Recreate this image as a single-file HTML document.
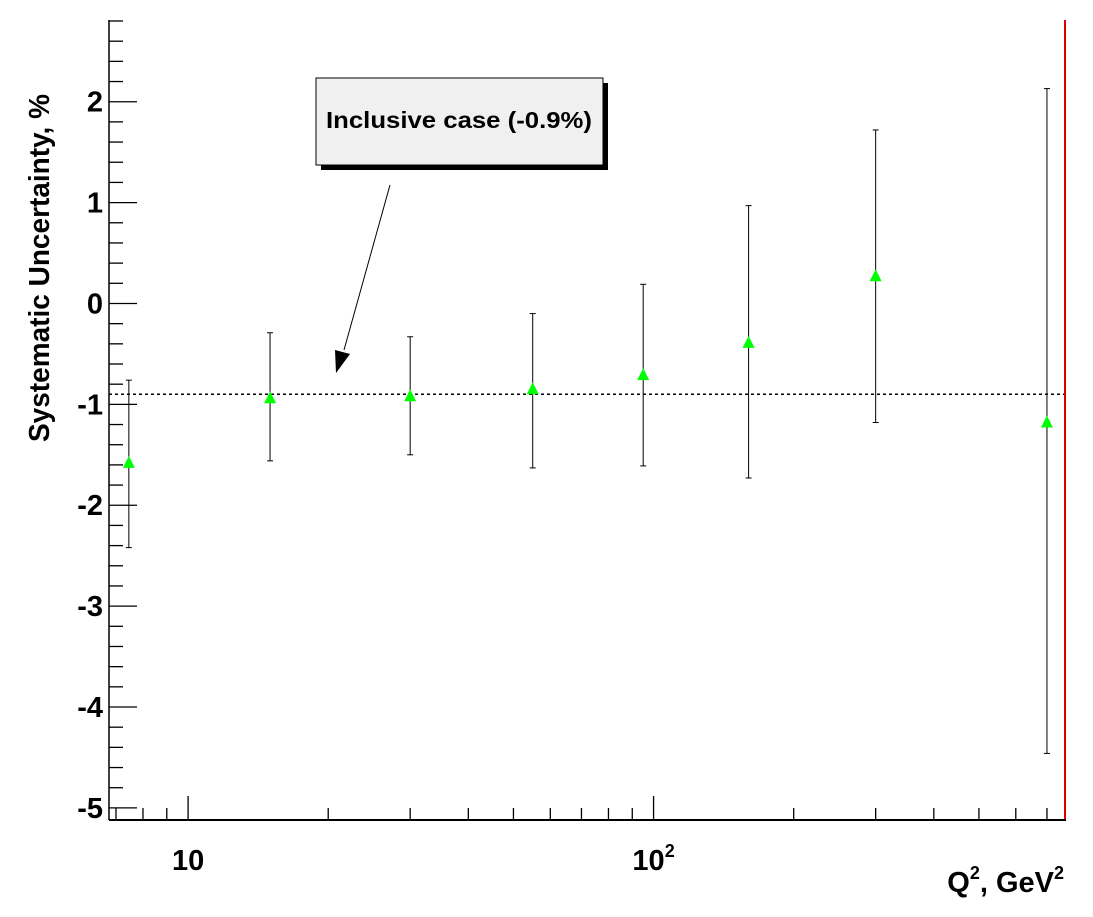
<!DOCTYPE html>
<html><head><meta charset="utf-8"><style>
body{margin:0;background:#fff;}
svg text{font-family:"Liberation Sans",sans-serif;font-weight:bold;}
</style></head><body>
<svg id="chart" width="1093" height="912" xmlns="http://www.w3.org/2000/svg">
<rect width="1093" height="912" fill="#fff"/>
<g id="ticks"></g>
<g id="marks"></g>
<line x1="1065" y1="20" x2="1065" y2="820" stroke="#d00" stroke-width="2"/>
<line x1="109" y1="820" x2="1066" y2="820" stroke="#000" stroke-width="2"/>
<line x1="109" y1="20" x2="109" y2="820" stroke="#000" stroke-width="1.5"/>
<text transform="translate(49,442) rotate(-90)" font-size="29" textLength="348" lengthAdjust="spacingAndGlyphs">Systematic Uncertainty, %</text>
<text x="1064" y="892" text-anchor="end" font-size="29">Q<tspan font-size="18" dy="-13">2</tspan><tspan dy="13">, GeV</tspan><tspan font-size="18" dy="-13">2</tspan></text>
<g>
<rect x="321" y="83" width="287" height="87" fill="#000"/>
<rect x="316" y="78" width="287" height="87" fill="#f0f0f0" stroke="#000" stroke-width="1"/>
<text x="459" y="128" text-anchor="middle" font-size="23" textLength="266" lengthAdjust="spacingAndGlyphs">Inclusive case (-0.9%)</text>
</g>
<line x1="390" y1="185" x2="344" y2="350" stroke="#000" stroke-width="1"/>
<polygon points="336,373 335,350 350,354" fill="#000"/>
</svg>
<script>
const categories=[7.46,15,30,55,95,160,300,700];
const values=[-1.58,-0.94,-0.92,-0.85,-0.71,-0.39,0.27,-1.18];
const errUp=[-0.76,-0.29,-0.33,-0.10,0.19,0.97,1.72,2.13];
const errLo=[-2.42,-1.56,-1.50,-1.63,-1.61,-1.73,-1.18,-4.46];
const refLine=-0.9;
const yTicks=[2,1,0,-1,-2,-3,-4,-5];
const xMajor=[10,100];
const xMajorBase=["10","10"];
const xMajorExp=["","2"];
const NS="http://www.w3.org/2000/svg";
const X0=109,X1=1065,Y0=820,Y1=20;
const xMin=Math.pow(10,1-79/465),xMax=Math.pow(10,1+876/465);
const yMin=-5.12,yMax=2.81;
function xs(v){return X0+(Math.log10(v)-Math.log10(xMin))/(Math.log10(xMax)-Math.log10(xMin))*(X1-X0);}
function ys(v){return Y0-(v-yMin)/(yMax-yMin)*(Y0-Y1);}
function mk(t,a,p){const e=document.createElementNS(NS,t);for(const k in a)e.setAttribute(k,a[k]);p.appendChild(e);return e;}
const tg=document.getElementById('ticks'),mg=document.getElementById('marks');
for(let i=-25;i<=14;i++){const v=i/5;const y=ys(v);if(y<Y1||y>Y0)continue;const maj=(i%5===0);
const l=mk('line',{x1:X0,x2:X0+(maj?28:14),y1:y,y2:y,stroke:'#000','stroke-width':1.3},tg);

}
yTicks.forEach(v=>{const t=mk('text',{x:X0-6,y:ys(v)+10,'text-anchor':'end','font-size':29},tg);t.textContent=v;

});
for(let d=0;d<3;d++){for(let m=1;m<10;m++){const v=m*Math.pow(10,d);if(v<xMin||v>xMax)continue;const x=xs(v);const maj=(m===1);
const l=mk('line',{x1:x,x2:x,y1:Y0,y2:Y0-(maj?24:12),stroke:'#000','stroke-width':1.3},tg);

}}
xMajor.forEach((v,i)=>{const t=mk('text',{x:xs(v),y:870,'text-anchor':'middle','font-size':29},tg);


t.textContent=xMajorBase[i];
if(xMajorExp[i]){const s=mk('tspan',{'font-size':18,dy:-13},t);s.textContent=xMajorExp[i];}});
const rl=mk('line',{x1:X0,x2:X1,y1:ys(refLine),y2:ys(refLine),stroke:'#000','stroke-width':1.5,'stroke-dasharray':'3,3'},mg);


categories.forEach((c,i)=>{const x=xs(c);
const e=mk('line',{x1:x,x2:x,y1:ys(errUp[i]),y2:ys(errLo[i]),stroke:'#000','stroke-width':1},mg);


[errUp[i],errLo[i]].forEach(v=>{const c2=mk('line',{x1:x-3,x2:x+3,y1:ys(v),y2:ys(v),stroke:'#000','stroke-width':1},mg);

});
const y=ys(values[i]);
const p=mk('polygon',{points:`${x},${y-7} ${x-6},${y+5} ${x+6},${y+5}`,fill:'#00ff00'},mg);

});
</script>
</body></html>
